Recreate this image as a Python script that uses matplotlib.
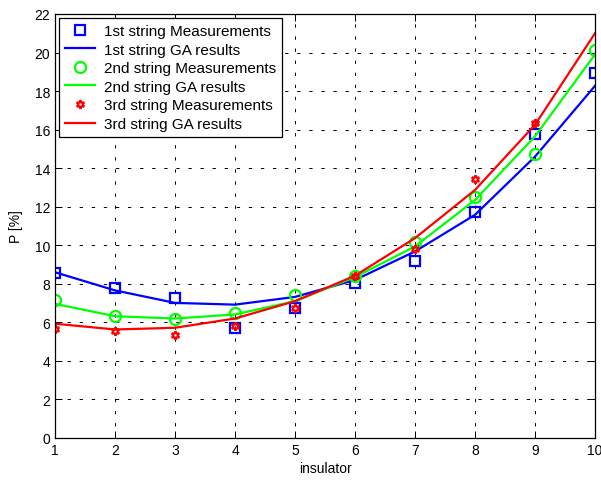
import matplotlib
matplotlib.use("Agg")
import matplotlib.pyplot as plt

plt.rcParams['font.family'] = ['Liberation Sans', 'DejaVu Sans']
plt.rcParams['lines.scale_dashes'] = False

insulator = [1, 2, 3, 4, 5, 6, 7, 8, 9, 10]

meas_1 = [8.56, 7.79, 7.27, 5.72, 6.75, 8.05, 9.2, 11.75, 15.79, 18.96]
ga_1 = [8.6, 7.66, 7.01, 6.92, 7.32, 8.2, 9.68, 11.58, 14.6, 18.27]

meas_2 = [7.18, 6.32, 6.15, 6.5, 7.44, 8.39, 10.17, 12.52, 14.73, 20.13]
ga_2 = [6.96, 6.32, 6.2, 6.41, 7.1, 8.35, 9.94, 12.35, 15.65, 19.9]

meas_3 = [5.63, 5.55, 5.37, 5.8, 6.75, 8.39, 9.8, 13.44, 16.37]
ga_3 = [5.93, 5.63, 5.72, 6.2, 7.1, 8.42, 10.37, 12.87, 16.25, 21.0]

fig = plt.figure(figsize=(6.01, 4.81), dpi=100)
ax = fig.add_axes([55 / 601, 1 - 439 / 481, 540 / 601, 424 / 481])

ax.plot(insulator, meas_1, 's', color='#0000ff', mfc='none', mew=1.6, ms=7,
        label='1st string Measurements')
ax.plot(insulator, ga_1, '-', color='#0000ff', lw=1.6, label='1st string GA results')
ax.plot(insulator, meas_2, 'o', color='#00ff00', mfc='none', mew=1.6, ms=8,
        label='2nd string Measurements')
ax.plot(insulator, ga_2, '-', color='#00ff00', lw=1.6, label='2nd string GA results')
ax.plot(insulator[:len(meas_3)], meas_3, linestyle='none', marker=(6, 1, 0),
        color='#ff0000', mfc='none', mew=1.6, ms=6, label='3rd string Measurements')
ax.plot(insulator, ga_3, '-', color='#ff0000', lw=1.6, label='3rd string GA results')

ax.set_xlim(1, 10)
ax.set_ylim(0, 22)
ax.set_xticks(range(1, 11))
ax.set_yticks(range(0, 23, 2))
ax.grid(True, color='black', linestyle=(0, (2.4, 6.3)), linewidth=0.7)
ax.tick_params(direction='in', top=True, right=True, length=5, width=0.7,
               labelsize=10, colors='black')
for s in ax.spines.values():
    s.set_linewidth(0.9)

ax.set_xlabel('insulator', fontsize=10, labelpad=3)
ax.set_ylabel('P [%]', fontsize=10, labelpad=8)

leg = ax.legend(loc='upper left', fontsize=11, frameon=True, fancybox=False,
                edgecolor='black', framealpha=1, borderpad=0.4, labelspacing=0.3,
                handlelength=2.0, handletextpad=0.55, borderaxespad=0.25)
leg.get_frame().set_linewidth(0.9)

fig.savefig('out.png', dpi=100)
